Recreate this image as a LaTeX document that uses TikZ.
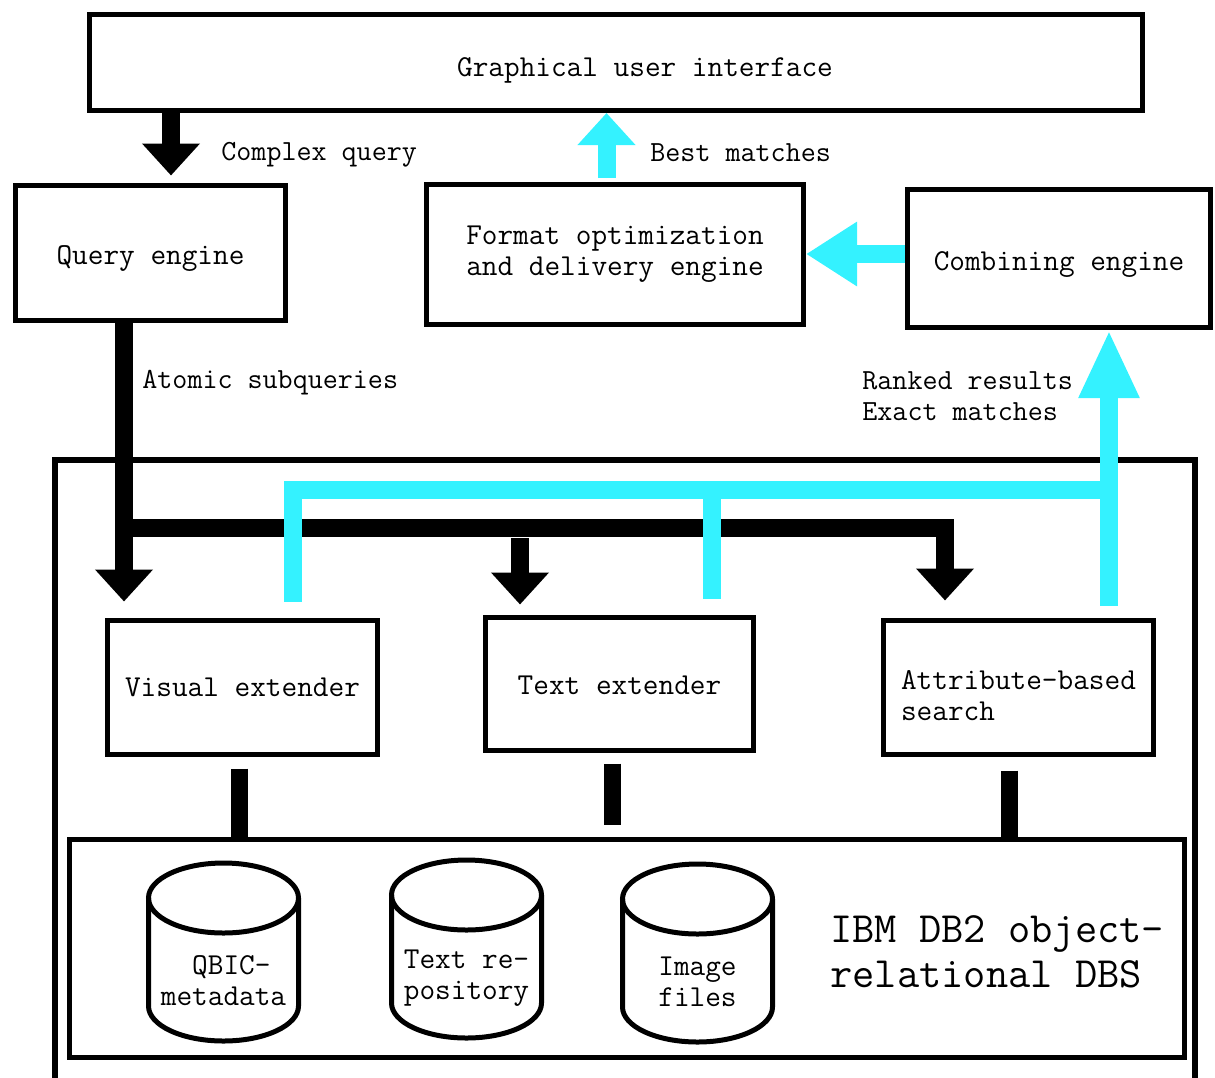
\documentclass[tikz,border=0pt]{standalone}
\usepackage{fontspec}
\usetikzlibrary{arrows.meta}

\definecolor{hitcyan}{RGB}{52,242,255}
\newcommand{\mono}{\ttfamily\fontsize{15.2}{15.5}\selectfont}
\newcommand{\notefont}{\ttfamily\fontsize{14.6}{15.5}\selectfont}
\newcommand{\bigmono}{\ttfamily\fontsize{21.6}{22.5}\selectfont}
% drum outline around a store node: side walls, bottom half ellipse, full lid
\newcommand{\drum}[1]{%
  \draw[line width=2.5pt] ([shift={(-37.5pt,41.5pt)}]#1.center) -- ([shift={(-37.5pt,-12.5pt)}]#1.center)
    arc[start angle=180, end angle=360, x radius=37.5pt, y radius=17.5pt]
    -- ([shift={(37.5pt,41.5pt)}]#1.center);
  \draw[line width=2.5pt] ([yshift=41.5pt]#1.center) ellipse[x radius=37.5pt, y radius=17.5pt];}

\tikzset{
  box/.style={draw, line width=2.5pt, font=\mono, inner sep=0pt, align=center},
  store/.style={font=\mono, inner sep=0pt, align=center},
  note/.style={font=\notefont, inner sep=0pt, align=left},
  fat/.style={line width=9pt, -{Triangle[width=28pt,length=16pt]}},
  hit/.style={fat, draw=hitcyan, fill=hitcyan},
  link/.style={line width=8.5pt},
  backbus/.style={line width=9pt, draw=hitcyan}
}

\begin{document}
\begin{tikzpicture}[x=0.5pt, y=-0.5pt]
  \useasboundingbox (0,0) rectangle (1215,1077);

  % top row
  \node[box, minimum width=526.5pt, minimum height=48pt,
    label={[font=\mono, xshift=14.5pt, yshift=-4pt]center:Graphical user interface}] (gui) at (616,62.5) {};
  \node[box, minimum width=135pt, minimum height=67.5pt, text height=15pt] (query) at (150.5,253) {Query engine};
  \node[box, minimum width=188.5pt, minimum height=70pt] (format) at (615,254.5) {Format optimization\\and delivery engine};
  \node[box, minimum width=151.5pt, minimum height=69pt, text height=15pt] (combine) at (1059,258.5) {Combining engine};

  % database system
  \node[draw, line width=3pt, minimum width=570pt, minimum height=320pt] (frame) at (625,780) {};
  \node[box, minimum width=135pt, minimum height=67pt] (visual) at (242.5,687.5) {Visual extender};
  \node[box, minimum width=134pt, minimum height=66.5pt, text height=11pt] (textext) at (619.5,684) {Text extender};
  \node[box, minimum width=135pt, minimum height=67pt, align=left, text height=33pt] (attrib) at (1018.5,687.5) {Attribute-based\\search};
  \node[box, minimum width=557.5pt, minimum height=109pt] (dbs) at (627,948.5) {};
  \node[store] (qbic) at (223.5,981) {~QBIC-\\metadata};
  \node[store] (textrep) at (466.5,978) {Text re-\\pository};
  \node[store] (images) at (697.5,982) {Image\\files};
  \drum{qbic}
  \drum{textrep}
  \drum{images}
  \node[font=\bigmono, inner sep=0pt, align=left, anchor=west] (dbsname) at (830,952) {IBM DB2 object-\\relational DBS};

  \coordinate (bus) at (124,528);
  \coordinate (ret) at (1109,490);

  % queries going down
  \draw[fat] ([xshift=10.25pt]query.north |- gui.south) -- ([xshift=10.25pt, yshift=3.75pt]query.north);
  \node[note, anchor=west] (cq) at (221,155) {Complex query};
  \draw[fat] ([xshift=-13.25pt]query.south) -- ([xshift=-13.25pt, yshift=8.25pt]query.south |- visual.north);
  \node[note, anchor=west] (aq) at (142,383) {Atomic subqueries};
  \draw[fat] (bus) -| ([xshift=-36.75pt, yshift=8.75pt]attrib.north);
  \draw[fat] ([xshift=-49.75pt, yshift=-5pt]textext.north |- bus) -- ([xshift=-49.75pt, yshift=5.25pt]textext.north);

  % extenders to the database
  \draw[link] ([xshift=-1.5pt, yshift=-5.75pt]visual.south) -- ([xshift=-1.5pt]visual.south |- dbs.north);
  \draw[link] ([xshift=-3.5pt, yshift=-5.25pt]textext.south) -- ([xshift=-3.5pt, yshift=6.25pt]textext.south |- dbs.north);
  \draw[link] ([xshift=-4.5pt, yshift=-6.75pt]attrib.south) -- ([xshift=-4.5pt]attrib.south |- dbs.north);

  % results going up
  \draw[backbus] ([xshift=25.25pt, yshift=8.25pt]visual.north) |- (ret);
  \draw[backbus] ([xshift=46.25pt, yshift=8.25pt]textext.north) -- ([xshift=46.25pt]textext.north |- ret);
  \draw[hit, -{Triangle[width=28pt,length=34pt]}] ([xshift=45.25pt, yshift=6.25pt]attrib.north) -- ([xshift=25pt]combine.south);
  \node[note, anchor=west] (rr) at (862,396) {Ranked results\\Exact matches};
  \draw[hit, -{Triangle[width=30.5pt,length=25.5pt]}] ([yshift=2.25pt]combine.west) -- ([yshift=2.25pt]format.east |- combine.west);
  \draw[hit] ([xshift=-4.25pt, yshift=2pt]format.north) -- ([xshift=-4.25pt]format.north |- gui.south);
  \node[note, anchor=west] (bm) at (650,153) {Best matches};
\end{tikzpicture}
\end{document}
